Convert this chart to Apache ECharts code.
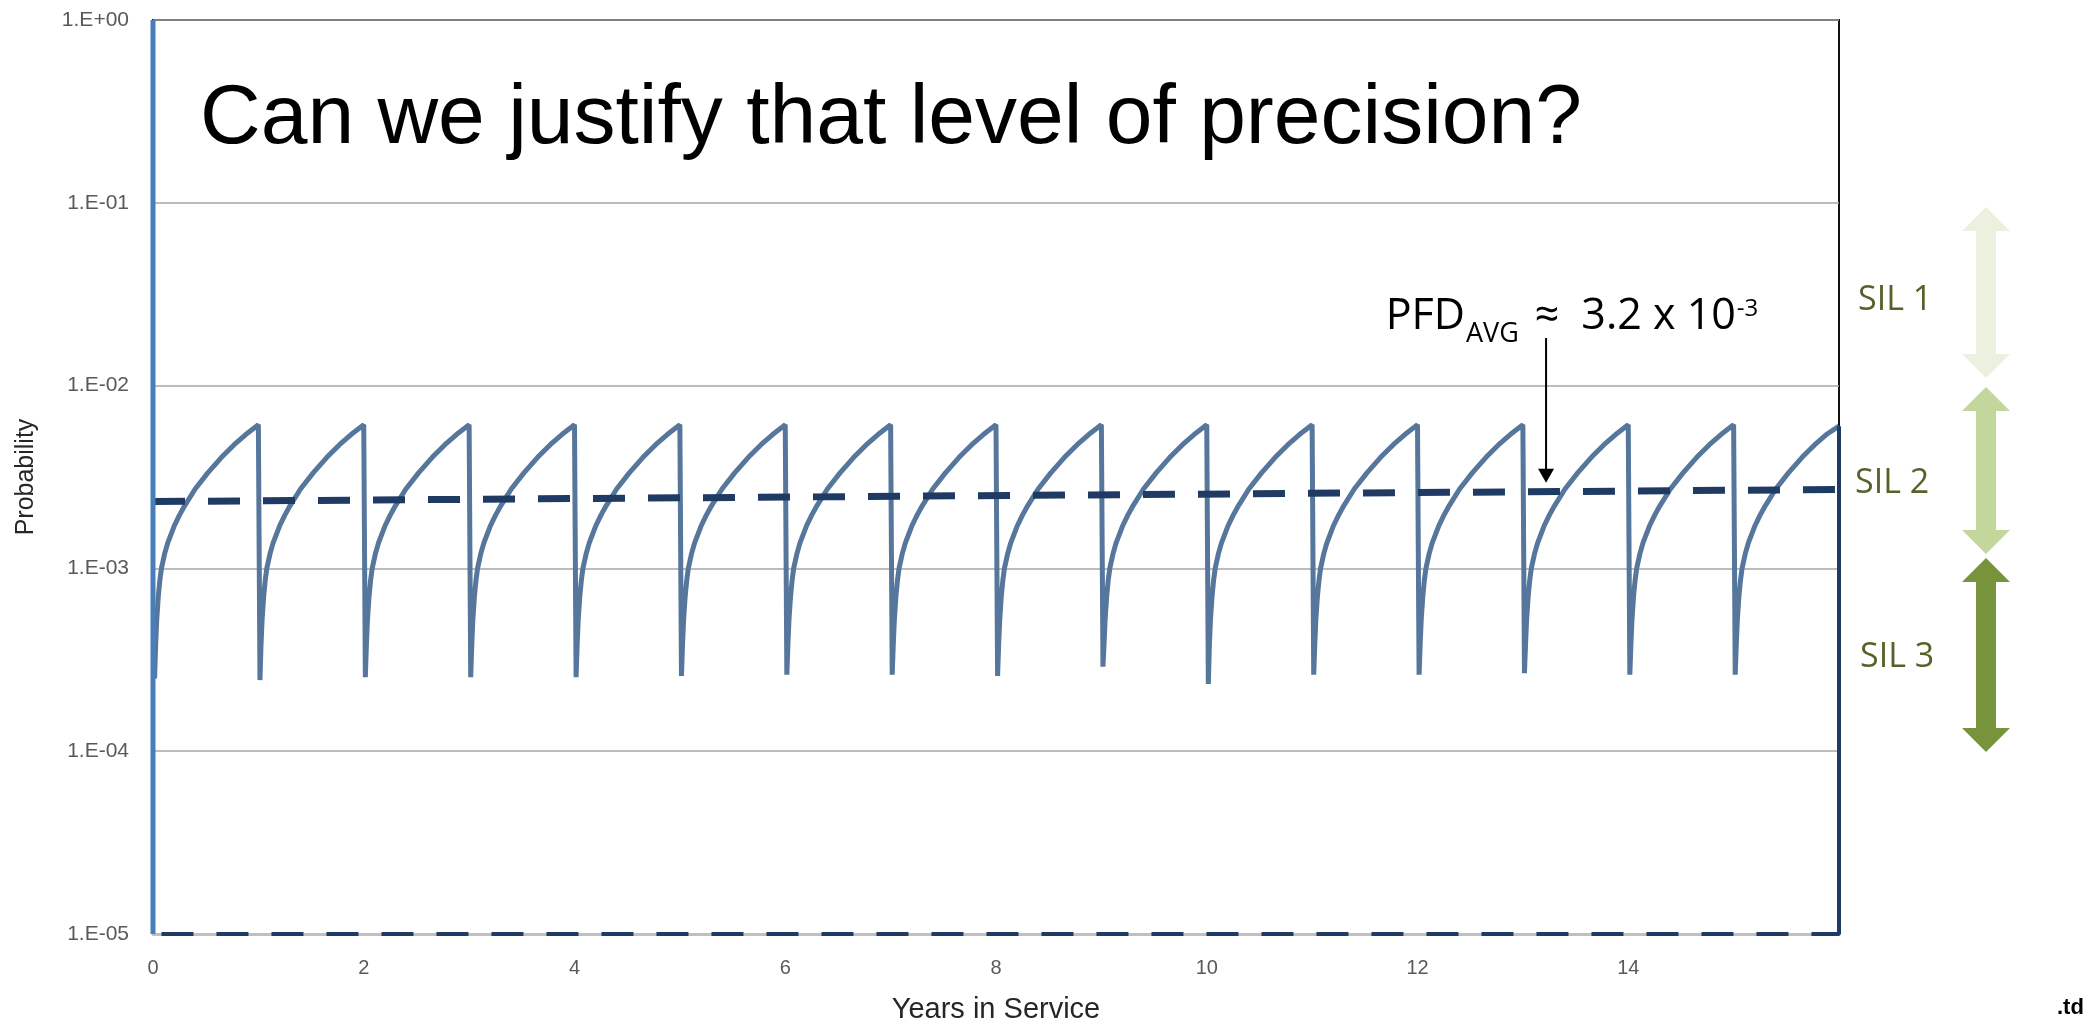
<!DOCTYPE html>
<html><head><meta charset="utf-8">
<script src="https://cdn.jsdelivr.net/npm/echarts@6/dist/echarts.min.js"></script>
<style>html,body{margin:0;padding:0;background:#fff}#c{width:2093px;height:1024px}</style>
</head><body><div id="c"></div>
<script>
// ---------- data ----------
const xTickLabels = ['0', '2', '4', '6', '8', '10', '12', '14'];
const yTickLabels = ['1.E-05', '1.E-04', '1.E-03', '1.E-02', '1.E-01', '1.E+00'];
const years = [0, 1, 2, 3, 4, 5, 6, 7, 8, 9, 10, 11, 12, 13, 14, 15];
// one proof-test cycle: offsets within the year and the probability read at those offsets
const cycleOffsets = [0.015, 0.025, 0.035, 0.05, 0.065, 0.08, 0.11, 0.14, 0.2, 0.25, 0.3, 0.4, 0.52, 0.65, 0.77, 0.88, 1.0];
const cycleValues  = [null, 3.8e-4, 5.2e-4, 7.0e-4, 8.6e-4, 1.0e-3, 1.2e-3, 1.38e-3, 1.7e-3, 1.95e-3, 2.2e-3, 2.72e-3, 3.33e-3, 4.05e-3, 4.75e-3, 5.4e-3, null];
// trough right after each proof test and peak right before the next one
const troughValues = [2.5e-4, 2.45e-4, 2.54e-4, 2.54e-4, 2.54e-4, 2.58e-4, 2.62e-4, 2.62e-4, 2.58e-4, 2.9e-4, 2.33e-4, 2.62e-4, 2.62e-4, 2.67e-4, 2.62e-4, 2.62e-4];
const peakValues   = [6.1e-3, 6.1e-3, 6.1e-3, 6.1e-3, 6.1e-3, 6.1e-3, 6.1e-3, 6.1e-3, 6.1e-3, 6.1e-3, 6.1e-3, 6.1e-3, 6.1e-3, 6.1e-3, 6.1e-3, 6.0e-3];
const xMax = 16;
const yMin = 1e-5, yMax = 1;
const pfdLineStart = 2.32e-3;
const pfdLineEnd = 2.70e-3;
const arrowYear = 13.22;
const silLabels = ['SIL 1', 'SIL 2', 'SIL 3'];

// ---------- build series ----------
const sawData = [];
years.forEach((n) => {
  cycleOffsets.forEach((off, i) => {
    let v = cycleValues[i];
    if (i === 0) v = troughValues[n];
    if (i === cycleOffsets.length - 1) v = peakValues[n];
    sawData.push([n + off, v]);
  });
});
const lastPeak = peakValues[peakValues.length - 1];

const NAVY = '#1f3b64';
const chart = echarts.init(document.getElementById('c'), null, { renderer: 'canvas' });

const option = {
  animation: false,
  backgroundColor: '#ffffff',
  grid: { left: 153, right: 254, top: 20, bottom: 90, show: true, borderColor: '#111111', borderWidth: 2, backgroundColor: 'transparent' },
  xAxis: {
    type: 'value', min: 0, max: xMax, interval: 2,
    axisLine: { show: true, onZero: false, lineStyle: { color: '#c0c0c0', width: 3 } },
    axisTick: { show: false },
    splitLine: { show: false },
    axisLabel: {
      margin: 24, fontSize: 20, fontFamily: 'Liberation Sans', color: '#595959',
      showMaxLabel: false,
      formatter: (v) => { const i = Math.round(v / 2); return (v <= 14) ? xTickLabels[i] : ''; }
    }
  },
  yAxis: {
    type: 'log', logBase: 10, min: yMin, max: yMax,
    axisLine: { show: false },
    axisTick: { show: false },
    splitLine: { show: true, lineStyle: { color: '#a6a6a6', width: 1.5 } },
    axisLabel: {
      margin: 24, fontSize: 21, fontFamily: 'Liberation Sans', color: '#595959',
      formatter: (v) => { const e = Math.round(Math.log10(v)); return yTickLabels[e + 5] || ''; }
    }
  },
  series: [
    {
      name: 'PFD', type: 'line', data: sawData, showSymbol: false, z: 2,
      lineStyle: { color: '#56769b', width: 5 }
    },
    {
      name: 'edge', type: 'line', data: [[xMax, lastPeak], [xMax, yMin]], showSymbol: false, clip: false, z: 3,
      lineStyle: { color: NAVY, width: 4 }
    },
    {
      name: 'avgTop', type: 'line', data: [[0, pfdLineStart], [xMax, pfdLineEnd]], showSymbol: false, clip: false, z: 4,
      lineStyle: { color: NAVY, width: 7, type: [32, 23] }
    },
    {
      name: 'avgFrame', type: 'line', data: [[xMax, pfdLineEnd], [xMax, yMin], [0, yMin], [0, pfdLineStart]], showSymbol: false, clip: false, z: 4,
      lineStyle: { color: NAVY, width: 4, type: [32, 23] }
    },
    {
      name: 'leftEdge', type: 'line', data: [[0, yMin], [0, yMax]], showSymbol: false, clip: false, z: 5,
      lineStyle: { color: '#4a7ebb', width: 5 }
    }
  ]
};
chart.setOption(option);

// ---------- annotations (placed after the axes exist) ----------
const ctx = document.createElement('canvas').getContext('2d');
function tw(text, size, family, weight) { ctx.font = (weight || 'normal') + ' ' + size + 'px "' + family + '"'; return ctx.measureText(text).width; }
function mid(baseline, size, k) { return baseline - k * size; }
const OS = 'Open Sans', OSK = 0.388, LS = 'Liberation Sans', LSK = 0.3465;

const gL = chart.convertToPixel({ gridIndex: 0 }, [0, yMin]);
const gR = chart.convertToPixel({ gridIndex: 0 }, [xMax, yMax]);
const plotCx = (gL[0] + gR[0]) / 2, plotCy = (gL[1] + gR[1]) / 2;

const ax = chart.convertToPixel({ gridIndex: 0 }, [arrowYear, pfdLineStart]);
const pA = chart.convertToPixel({ gridIndex: 0 }, [0, pfdLineStart]);
const pB = chart.convertToPixel({ gridIndex: 0 }, [xMax, pfdLineEnd]);
const dashY = pA[1] + (pB[1] - pA[1]) * arrowYear / xMax;
const arrowX = ax[0];
const tipY = dashY - 9;
const shaftTop = 338;

const g = [];
// title
g.push({ type: 'text', x: 200, y: mid(149, 84, LSK), style: { text: 'Can we justify that level of precision?', fontSize: 84, fontFamily: LS, fill: '#000', align: 'left', verticalAlign: 'middle' } });
// axis names
g.push({ type: 'text', x: plotCx, y: mid(1020, 29, LSK), style: { text: 'Years in Service', fontSize: 29, fontFamily: LS, fill: '#262626', align: 'center', verticalAlign: 'middle' } });
g.push({ type: 'text', x: 26, y: plotCy, rotation: Math.PI / 2, style: { text: 'Probability', fontSize: 25, fontFamily: LS, fill: '#262626', align: 'center', verticalAlign: 'middle' } });

// PFD annotation, anchored on the arrow (the "≈" sits over it)
const FS = 43, SS = 27, base = 333;
const wApprox = tw('≈', FS, OS);
const approxX = arrowX - wApprox / 2 + 1;
const wPFD = tw('PFD', FS, OS), wAVG = tw('AVG', SS, OS);
const avgX = approxX - 16 - wAVG;
const pfdX = avgX - 1 - wPFD;
const numX = approxX + wApprox + 22;
const supX = numX + tw('3.2 x 10', FS, OS) + 1;
g.push({ type: 'text', x: pfdX, y: mid(base, FS, OSK), style: { text: 'PFD', fontSize: FS, fontFamily: OS, fill: '#000', align: 'left', verticalAlign: 'middle' } });
g.push({ type: 'text', x: avgX, y: mid(345, SS, OSK), style: { text: 'AVG', fontSize: SS, fontFamily: OS, fill: '#000', align: 'left', verticalAlign: 'middle' } });
g.push({ type: 'text', x: approxX, y: mid(base, FS, OSK), style: { text: '≈', fontSize: FS, fontFamily: OS, fill: '#000', align: 'left', verticalAlign: 'middle' } });
g.push({ type: 'text', x: numX, y: mid(base, FS, OSK), style: { text: '3.2 x 10', fontSize: FS, fontFamily: OS, fill: '#000', align: 'left', verticalAlign: 'middle' } });
g.push({ type: 'text', x: supX, y: mid(318, 24, OSK), style: { text: '-3', fontSize: 24, fontFamily: OS, fill: '#000', align: 'left', verticalAlign: 'middle' } });
// arrow
g.push({ type: 'line', shape: { x1: arrowX, y1: shaftTop, x2: arrowX, y2: tipY - 12 }, style: { stroke: '#000', lineWidth: 2 } });
g.push({ type: 'polygon', shape: { points: [[arrowX - 8, tipY - 14], [arrowX + 8, tipY - 14], [arrowX, tipY]] }, style: { fill: '#000' } });

// SIL labels and arrows
const silCols = ['#ebf1de', '#c3d69b', '#77933c'];
const silRanges = [[207, 378], [387, 554], [558, 752]];
const silTextY = [300, 483, 657];
const silTextX = [1858, 1855, 1860];
const acx = 1986, shaftW = 20, headW = 48, headH = 24;
silLabels.forEach((t, i) => {
  g.push({ type: 'text', x: silTextX[i], y: silTextY[i], style: { text: t, fontSize: 34, fontFamily: OS, fill: '#546329', align: 'left', verticalAlign: 'middle' } });
  const [a, b] = silRanges[i];
  g.push({ type: 'polygon', shape: { points: [
    [acx, a], [acx + headW / 2, a + headH], [acx + shaftW / 2, a + headH], [acx + shaftW / 2, b - headH],
    [acx + headW / 2, b - headH], [acx, b], [acx - headW / 2, b - headH], [acx - shaftW / 2, b - headH],
    [acx - shaftW / 2, a + headH], [acx - headW / 2, a + headH]
  ] }, style: { fill: silCols[i] } });
});
// tag at bottom right
g.push({ type: 'text', x: 2057, y: 1008, style: { text: '.td', fontSize: 22, fontWeight: 'bold', fontFamily: LS, fill: '#000', align: 'left', verticalAlign: 'middle' } });

chart.setOption({ graphic: g });
</script></body></html>
